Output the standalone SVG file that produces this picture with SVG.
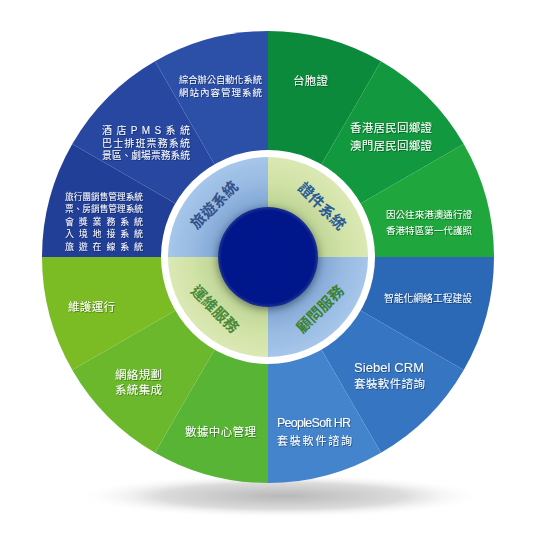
<svg xmlns="http://www.w3.org/2000/svg" width="539" height="547" viewBox="0 0 539 547">
<defs>
<radialGradient id="shadowG" cx="0.5" cy="0.5" r="0.5">
<stop offset="0" stop-color="#b8b8b8"/>
<stop offset="0.6" stop-color="#dcdcdc"/>
<stop offset="1" stop-color="#ffffff" stop-opacity="0"/>
</radialGradient>
<radialGradient id="gBlue" gradientUnits="userSpaceOnUse" cx="268" cy="257" r="100">
<stop offset="0.5" stop-color="#7ea5d3"/>
<stop offset="0.75" stop-color="#98bae2"/>
<stop offset="1" stop-color="#a6c6ea"/>
</radialGradient>
<radialGradient id="gGreen" gradientUnits="userSpaceOnUse" cx="268" cy="257" r="100">
<stop offset="0.5" stop-color="#bcd394"/>
<stop offset="0.75" stop-color="#d0e2a6"/>
<stop offset="1" stop-color="#dbe8b4"/>
</radialGradient>
<radialGradient id="gCore" cx="0.5" cy="0.5" r="0.5">
<stop offset="0" stop-color="#00188e"/>
<stop offset="0.92" stop-color="#00168a"/>
<stop offset="1" stop-color="#1c3392"/>
</radialGradient>
<filter id="ts" x="-10%" y="-30%" width="130%" height="180%">
<feDropShadow dx="0.8" dy="0.8" stdDeviation="0.6" flood-color="#000" flood-opacity="0.4"/>
</filter>
<filter id="cs" x="-30%" y="-30%" width="160%" height="160%">
<feDropShadow dx="0" dy="2" stdDeviation="4" flood-color="#000" flood-opacity="0.45"/>
</filter>
</defs>
<style>
.t{fill:#ffffff;font-family:"Liberation Sans","Noto Sans CJK TC",sans-serif;filter:url(#ts)}
.l{font-family:"Liberation Sans","Noto Sans CJK TC",sans-serif;font-size:15px;text-anchor:middle;dominant-baseline:central;font-weight:bold}
</style>
<rect width="539" height="547" fill="#ffffff"/>
<ellipse cx="282" cy="496" rx="205" ry="22" fill="url(#shadowG)"/>

<g id="seg-tl-3"><path d="M268 257 L268 31 A226 226 0 0 0 155 61.28 Z" fill="#2c50a8"/>
<text class="t" font-size="9.5" x="179" y="83" textLength="83" lengthAdjust="spacingAndGlyphs">綜合辦公自動化系統</text>
<text class="t" font-size="9.5" x="179" y="96" textLength="83" lengthAdjust="spacing">網站內容管理系統</text></g>
<g id="seg-tl-2"><path d="M268 257 L155 61.28 A226 226 0 0 0 72.28 144 Z" fill="#2747a0"/>
<text class="t" font-size="10" x="102" y="134" textLength="88" lengthAdjust="spacing">酒店PMS系統</text>
<text class="t" font-size="10" x="102" y="147" textLength="88" lengthAdjust="spacing">巴士排班票務系統</text>
<text class="t" font-size="10" x="102" y="159" textLength="88" lengthAdjust="spacingAndGlyphs">景區、劇場票務系統</text></g>
<g id="seg-tl-1"><path d="M268 257 L72.28 144 A226 226 0 0 0 42 257 Z" fill="#223f97"/>
<text class="t" font-size="8.8" x="65" y="200" textLength="78" lengthAdjust="spacingAndGlyphs">旅行團銷售管理系統</text>
<text class="t" font-size="8.8" x="65" y="212" textLength="78" lengthAdjust="spacingAndGlyphs">票、房銷售管理系統</text>
<text class="t" font-size="9" x="65" y="225" textLength="78" lengthAdjust="spacing">會獎業務系統</text>
<text class="t" font-size="9" x="65" y="237" textLength="78" lengthAdjust="spacing">入境地接系統</text>
<text class="t" font-size="9" x="65" y="250" textLength="78" lengthAdjust="spacing">旅遊在線系統</text></g>

<g id="seg-tr-1"><path d="M268 257 L268 31 A226 226 0 0 1 381 61.28 Z" fill="#0b8a3b"/>
<text class="t" font-size="11.5" x="293" y="85" textLength="35" lengthAdjust="spacing">台胞證</text></g>
<g id="seg-tr-2"><path d="M268 257 L381 61.28 A226 226 0 0 1 463.72 144 Z" fill="#12983e"/>
<text class="t" font-size="11.5" x="350" y="132" textLength="82" lengthAdjust="spacing">香港居民回鄉證</text>
<text class="t" font-size="11.5" x="350" y="150" textLength="82" lengthAdjust="spacing">澳門居民回鄉證</text></g>
<g id="seg-tr-3"><path d="M268 257 L463.72 144 A226 226 0 0 1 494 257 Z" fill="#1fa63c"/>
<text class="t" font-size="9.5" x="386" y="218" textLength="86" lengthAdjust="spacing">因公往來港澳通行證</text>
<text class="t" font-size="9.5" x="386" y="234" textLength="86" lengthAdjust="spacing">香港特區第一代護照</text></g>

<g id="seg-br-1"><path d="M268 257 L494 257 A226 226 0 0 1 463.72 370 Z" fill="#2b68b5"/>
<text class="t" font-size="9.8" x="384" y="302" textLength="88" lengthAdjust="spacing">智能化網絡工程建設</text></g>
<g id="seg-br-2"><path d="M268 257 L463.72 370 A226 226 0 0 1 381 452.72 Z" fill="#3575c1"/>
<text class="t" font-size="13" x="354" y="372" textLength="70" lengthAdjust="spacing">Siebel CRM</text>
<text class="t" font-size="11.5" x="354" y="388" textLength="71" lengthAdjust="spacing">套裝軟件諮詢</text></g>
<g id="seg-br-3"><path d="M268 257 L381 452.72 A226 226 0 0 1 268 483 Z" fill="#4384cc"/>
<text class="t" font-size="12.5" x="277" y="427" textLength="74" lengthAdjust="spacing">PeopleSoft HR</text>
<text class="t" font-size="11" x="277" y="445" textLength="75" lengthAdjust="spacing">套裝軟件諮詢</text></g>

<g id="seg-bl-1"><path d="M268 257 L268 483 A226 226 0 0 1 155 452.72 Z" fill="#58b435"/>
<text class="t" font-size="11.5" x="185" y="436" textLength="71" lengthAdjust="spacing">數據中心管理</text></g>
<g id="seg-bl-2"><path d="M268 257 L155 452.72 A226 226 0 0 1 72.28 370 Z" fill="#6bb82c"/>
<text class="t" font-size="11.5" x="115" y="379" textLength="47" lengthAdjust="spacing">網絡規劃</text>
<text class="t" font-size="11.5" x="115" y="394" textLength="47" lengthAdjust="spacing">系統集成</text></g>
<g id="seg-bl-3"><path d="M268 257 L72.28 370 A226 226 0 0 1 42 257 Z" fill="#7bbc24"/>
<text class="t" font-size="11.5" x="68" y="311" textLength="47" lengthAdjust="spacing">維護運行</text></g>

<g id="ring">
<circle cx="268" cy="257" r="107" fill="#ffffff"/>
</g>
<g id="inner-tl"><path d="M268 257 L168 257 A100 100 0 0 1 268 157 Z" fill="url(#gBlue)"/>
<text class="l" fill="#33528a" transform="translate(214,205) rotate(-45)">旅遊系統</text></g>
<g id="inner-tr"><path d="M268 257 L268 157 A100 100 0 0 1 368 257 Z" fill="url(#gGreen)"/>
<text class="l" fill="#2b5a96" transform="translate(322,206) rotate(45)">證件系統</text></g>
<g id="inner-br"><path d="M268 257 L368 257 A100 100 0 0 1 268 357 Z" fill="url(#gBlue)"/>
<text class="l" fill="#3a8236" transform="translate(320,309) rotate(-45)">顧問服務</text></g>
<g id="inner-bl"><path d="M268 257 L268 357 A100 100 0 0 1 168 257 Z" fill="url(#gGreen)"/>
<text class="l" fill="#4a8a3a" transform="translate(215,309) rotate(45)">運維服務</text></g>
<g id="core"><circle cx="268" cy="257" r="50" fill="url(#gCore)" filter="url(#cs)"/></g>
<g id="connectors"></g>
</svg>
